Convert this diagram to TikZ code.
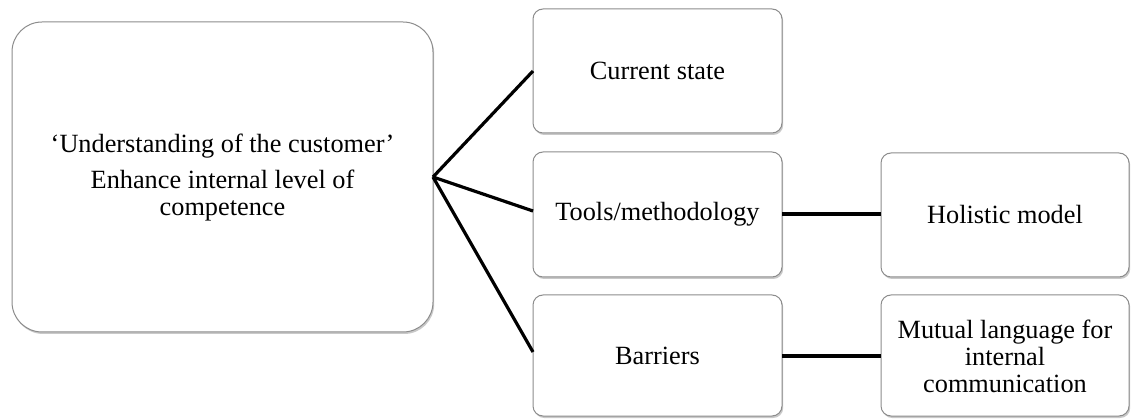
\documentclass[tikz,border=0pt]{standalone}
\usepackage{fontspec}
\setmainfont{Liberation Serif}
\usetikzlibrary{shadows}
\begin{document}
\begin{tikzpicture}[x=1pt,y=-1pt,
  box/.style={draw=black!45, line width=1pt, fill=white, rounded corners=10pt,
    drop shadow={shadow xshift=1.2pt, shadow yshift=-2pt, opacity=0.35, fill=black!60}},
  bigbox/.style={box, rounded corners=30pt},
  lbl/.style={align=center, font=\fontsize{26.3}{27}\selectfont},
  link/.style={line width=3.2pt, black}]
\useasboundingbox (0,0) rectangle (1132,419);
\fill[white] (0,0) rectangle (1132,419);

% boxes
\draw[bigbox] (12,22) rectangle (433,332);
\draw[box] (533,9)   rectangle (782,133);
\draw[box] (533,152) rectangle (782,277);
\draw[box] (533,295) rectangle (782,416);
\draw[box] (881,153) rectangle (1129,277);
\draw[box] (881,295) rectangle (1129,416);

% labels
\node[lbl] (big) at (222.5,178) {‘Understanding of the customer’\\[9pt]Enhance internal level of\\competence};
\node[lbl] (cs) at (657.5,71)  {Current state};
\node[lbl] (tm) at (657.5,214) {Tools/methodology};
\node[lbl] (ba) at (657.5,356) {Barriers};
\node[lbl] (ho) at (1005,215)  {Holistic model};
\node[lbl] (mu) at (1005,356)  {Mutual language for\\internal\\communication};

% anchor points on box edges
\coordinate (hub) at (433,177);
\coordinate (csL) at (533,71);
\coordinate (tmL) at (533,211);
\coordinate (baL) at (533,352);
\coordinate (tmR) at (782,214);
\coordinate (hoL) at (881,214);
\coordinate (baR) at (782,356);
\coordinate (muL) at (881,356);

% connectors
\draw[link] (hub) -- (csL);
\draw[link] (hub) -- (tmL);
\draw[link] (hub) -- (baL);
\draw[link] (tmR) -- (hoL);
\draw[link] (baR) -- (muL);
\end{tikzpicture}
\end{document}
